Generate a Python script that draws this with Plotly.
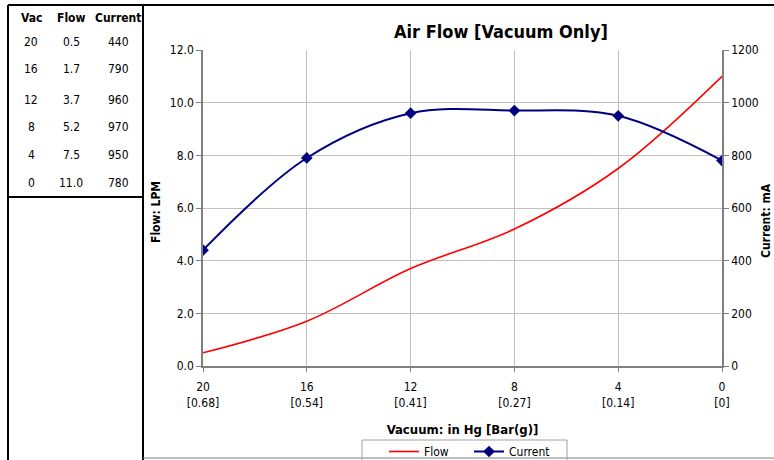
import plotly.graph_objects as go

vac = [20, 16, 12, 8, 4, 0]
flow = [0.5, 1.7, 3.7, 5.2, 7.5, 11.0]
current = [440, 790, 960, 970, 950, 780]
bar_labels = ["0.68", "0.54", "0.41", "0.27", "0.14", "0"]
flow_ticks = [0, 2, 4, 6, 8, 10, 12]
cur_ticks = [0, 200, 400, 600, 800, 1000, 1200]

W, H = 774, 460
L, R, T, B = 203, 722, 50, 366
FONT = "DejaVu Sans Condensed, Liberation Sans Narrow, DejaVu Sans, sans-serif"


def px(x):
    return (x - L) / (R - L)


def py(y):
    return (B - y) / (B - T)


fig = go.Figure()
fig.add_trace(go.Scatter(
    x=vac, y=flow, name="Flow", mode="lines",
    line=dict(color="#ff0000", width=1.6, shape="spline", smoothing=1.0),
))
fig.add_trace(go.Scatter(
    x=vac, y=current, name="Current", mode="lines+markers", yaxis="y2",
    line=dict(color="#000080", width=2, shape="spline", smoothing=1.0),
    marker=dict(symbol="diamond", size=9, color="#000080"),
))

shapes = []
line_col = "#000000"
shapes.append(dict(type="line", xref="paper", yref="paper", x0=px(8), x1=px(774), y0=py(5), y1=py(5), line=dict(color=line_col, width=2)))
shapes.append(dict(type="line", xref="paper", yref="paper", x0=px(8), x1=px(8), y0=py(5), y1=py(460), line=dict(color=line_col, width=2)))
shapes.append(dict(type="line", xref="paper", yref="paper", x0=px(143), x1=px(143), y0=py(5), y1=py(460), line=dict(color=line_col, width=2)))
shapes.append(dict(type="line", xref="paper", yref="paper", x0=px(8), x1=px(143), y0=py(197), y1=py(197), line=dict(color=line_col, width=2)))
shapes.append(dict(type="line", xref="paper", yref="paper", x0=px(143), x1=px(774), y0=py(458), y1=py(458), line=dict(color="#808080", width=1)))
# legend frame
shapes.append(dict(type="rect", xref="paper", yref="paper", x0=px(362), x1=px(567), y0=py(440), y1=py(470),
                   line=dict(color="#a0a0a0", width=1), fillcolor="rgba(0,0,0,0)"))

annotations = []
annotations.append(dict(text="<b>Air Flow [Vacuum Only]</b>", x=px(501), y=py(32), xref="paper", yref="paper",
                        showarrow=False, font=dict(size=18, color="#000000", family=FONT), xanchor="center", yanchor="middle"))
annotations.append(dict(text="<b>Flow: LPM</b>", x=px(156), y=py(212), xref="paper", yref="paper", textangle=-90,
                        showarrow=False, font=dict(size=12, color="#000000", family=FONT), xanchor="center", yanchor="middle"))
annotations.append(dict(text="<b>Current: mA</b>", x=px(766), y=py(221), xref="paper", yref="paper", textangle=-90,
                        showarrow=False, font=dict(size=12, color="#000000", family=FONT), xanchor="center", yanchor="middle"))

col_x = [31, 71, 118]
headers = ["Vac", "Flow", "Current"]
for cx, h in zip(col_x, headers):
    annotations.append(dict(text="<b>" + h + "</b>", x=px(cx), y=py(18), xref="paper", yref="paper",
                            showarrow=False, font=dict(size=12, color="#000000", family=FONT), xanchor="center", yanchor="middle"))
row_y = [42, 69, 100, 127, 155, 183]
for ry, v, f, c in zip(row_y, vac, flow, current):
    for cx, t in zip(col_x, [str(v), f"{f:.1f}", str(c)]):
        annotations.append(dict(text=t, x=px(cx), y=py(ry), xref="paper", yref="paper",
                                showarrow=False, font=dict(size=12, color="#000000", family=FONT), xanchor="center", yanchor="middle"))

fig.update_layout(
    width=W, height=H,
    margin=dict(l=L, r=W - R, t=T, b=H - B, pad=0, autoexpand=False),
    paper_bgcolor="#ffffff", plot_bgcolor="#ffffff",
    font=dict(family=FONT, size=12, color="#000000"),
    showlegend=True,
    legend=dict(orientation="h", x=px(384), y=py(437), xanchor="left", yanchor="top",
                borderwidth=0, bgcolor="rgba(0,0,0,0)",
                font=dict(size=12, family=FONT), entrywidth=40, entrywidthmode="pixels", tracegroupgap=0),
    xaxis=dict(
        range=[20, 0], tickvals=vac,
        ticktext=[f"{v}<br>[{b}]" for v, b in zip(vac, bar_labels)],
        showgrid=True, gridcolor="#c0c0c0", gridwidth=1,
        showline=True, linecolor="#808080", linewidth=1.5,
        ticks="outside", ticklen=4, tickcolor="#808080",
        zeroline=False, ticklabelstandoff=5,
        title=dict(text="<b>Vacuum: in Hg [Bar(g)]</b>", font=dict(size=13, family=FONT), standoff=16),
        tickfont=dict(size=12, family=FONT),
    ),
    yaxis=dict(
        range=[0, 12], tickvals=flow_ticks, ticktext=[f"{v:.1f}" for v in flow_ticks],
        showgrid=True, gridcolor="#c0c0c0", gridwidth=1,
        showline=True, linecolor="#808080", linewidth=1.5,
        ticks="outside", ticklen=5, tickcolor="#808080", zeroline=False,
        tickfont=dict(size=12, family=FONT),
    ),
    yaxis2=dict(
        range=[0, 1200], tickvals=cur_ticks, overlaying="y", side="right",
        showgrid=False, showline=True, linecolor="#808080", linewidth=1.5,
        ticks="outside", ticklen=5, tickcolor="#808080", zeroline=False,
        tickfont=dict(size=12, family=FONT),
    ),
    shapes=shapes, annotations=annotations,
)

fig.write_html("out.html", config={"displayModeBar": False},
               post_script="document.body.style.margin='0';")
